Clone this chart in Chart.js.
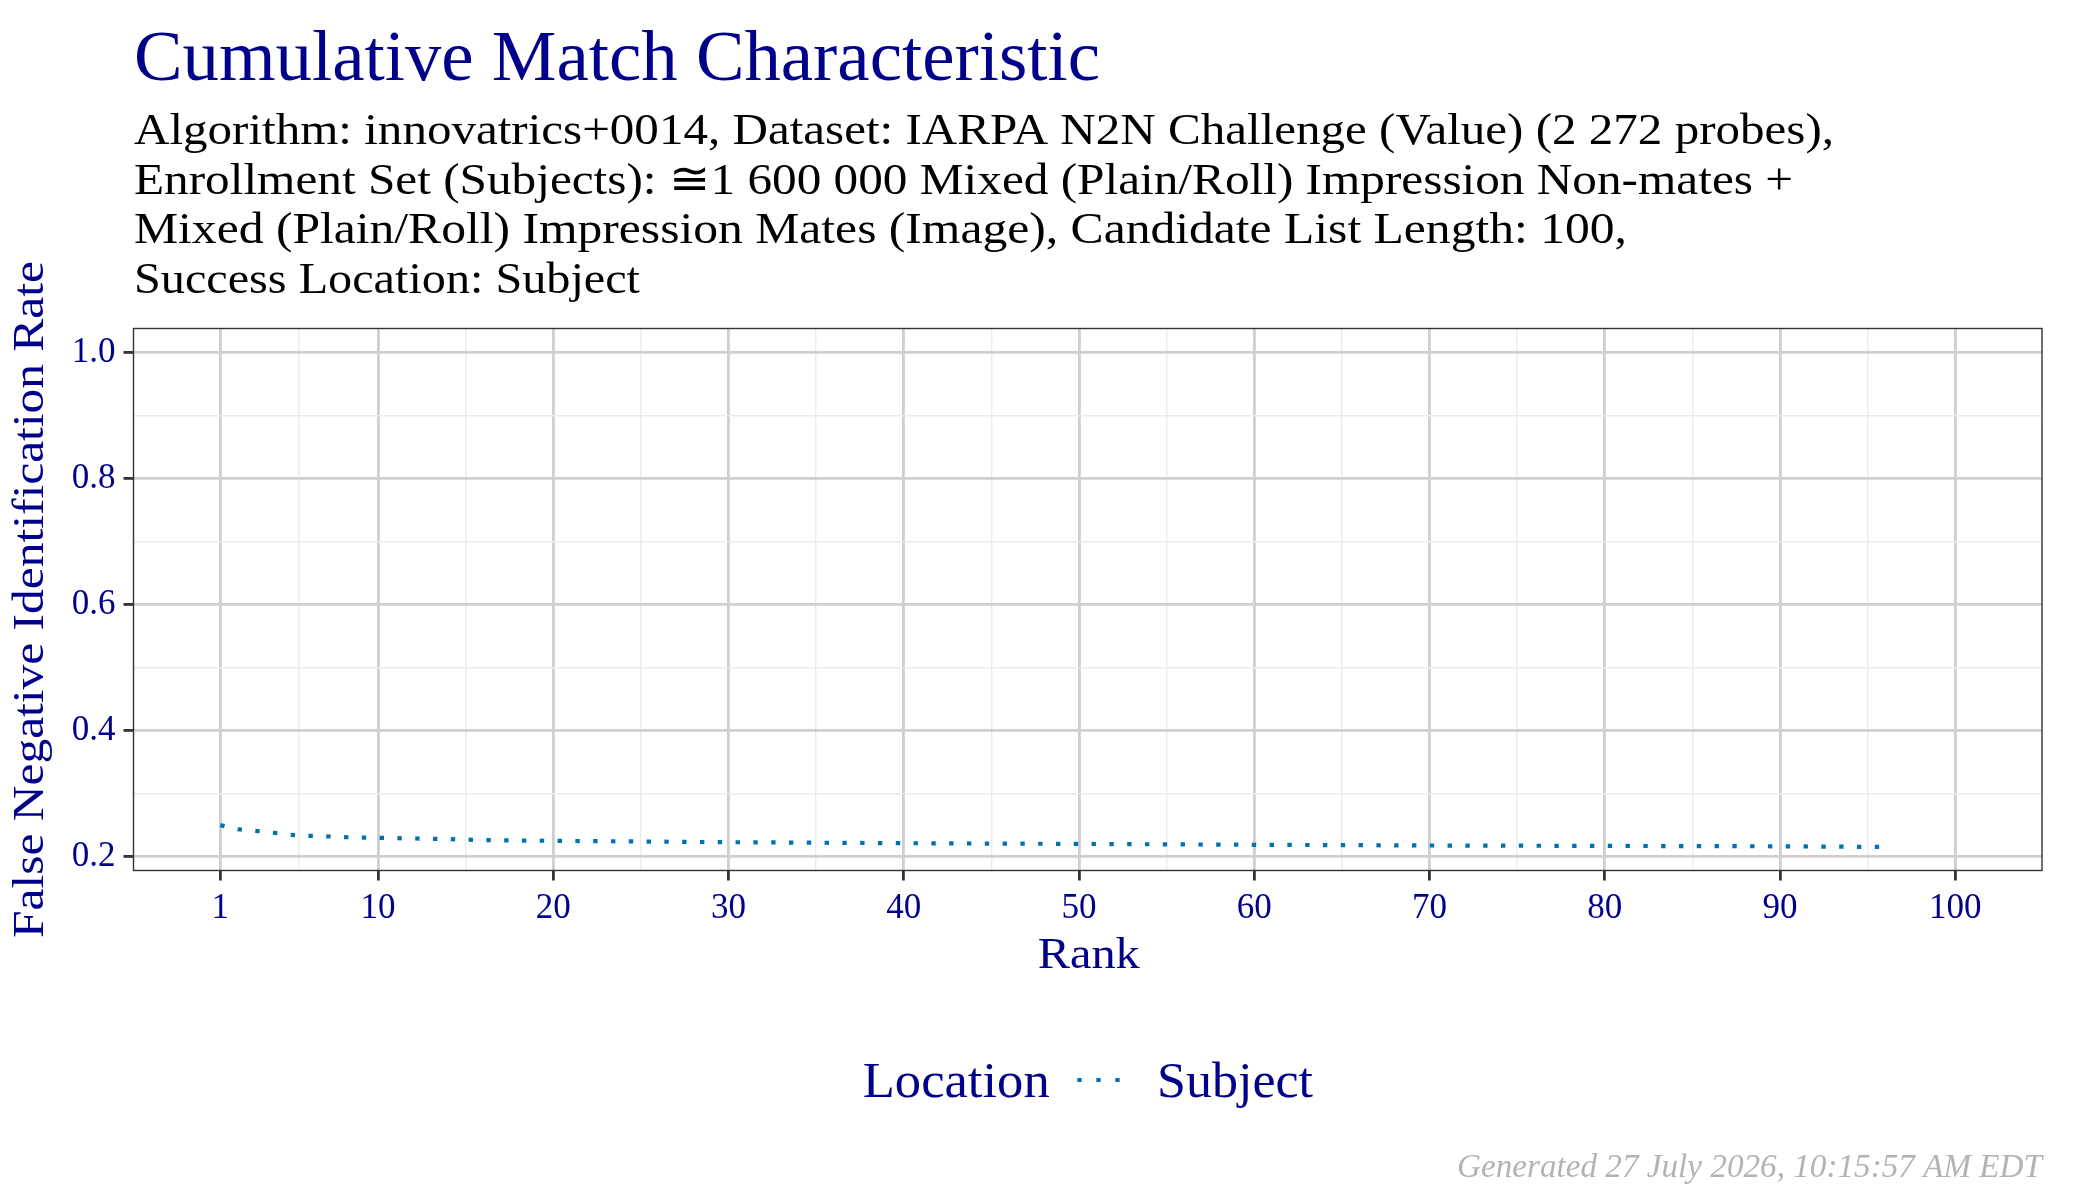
<!DOCTYPE html>
<html>
<head>
<meta charset="utf-8">
<script src="https://cdn.jsdelivr.net/npm/chart.js@4"></script>
<style>
html,body{margin:0;padding:0;background:#fff;}
canvas{display:block;}
</style>
</head>
<body>
<canvas id="c" width="2100" height="1200"></canvas>
<script>
// ---- data ----
const ranks = [1,2,3,4,5,6,7,8,9,10,12,14,16,18,20,25,30,40,50,60,70,80,90,96];
const fnir  = [0.250,0.2435,0.241,0.238,0.2345,0.233,0.2323,0.231,0.2303,0.2298,0.2288,0.2278,0.2262,0.2256,0.2251,0.2240,0.2229,0.2213,0.2202,0.2188,0.2177,0.2170,0.2164,0.2153];
const xMajorTicks = [1,10,20,30,40,50,60,70,80,90,100];
const xMinorTicks = [5.5,15,25,35,45,55,65,75,85,95];
const yMajorTicks = [0.2,0.4,0.6,0.8,1.0];
const yMinorTicks = [0.3,0.5,0.7,0.9];
const titleText = "Cumulative Match Characteristic";
const subtitleLines = [
  "Algorithm: innovatrics+0014, Dataset: IARPA N2N Challenge (Value) (2 272 probes),",
  "Enrollment Set (Subjects): \u22451 600 000 Mixed (Plain/Roll) Impression Non-mates +",
  "Mixed (Plain/Roll) Impression Mates (Image), Candidate List Length: 100,",
  "Success Location: Subject"
];
const xTitle = "Rank";
const yTitle = "False Negative Identification Rate";
const legendTitle = "Location";
const seriesName = "Subject";
const footerText = "Generated 27 July 2026, 10:15:57 AM EDT";

// ---- style ----
const NAVY = "#00008B";
const LINE = "#0072B2";
const FONT = '"Liberation Serif", "DejaVu Serif", serif';
const P = {left:133.5, right:2042, top:328.5, bottom:870.5};

const xMajSet = new Set(xMajorTicks);
const yMajSet = new Set(yMajorTicks.map(v => v.toFixed(2)));
const isMajX = v => xMajSet.has(v);
const isMajY = v => yMajSet.has(Number(v).toFixed(2));

function txt(ctx, s, x, y, size, color, o) {
  o = o || {};
  ctx.save();
  ctx.font = (o.italic ? 'italic ' : '') + size + 'px ' + FONT;
  const w = ctx.measureText(s).width;
  const sx = o.w ? o.w / w : 1;
  ctx.translate(x, y);
  if (o.rot) ctx.rotate(-Math.PI / 2);
  ctx.scale(sx, 1);
  ctx.textAlign = o.align || 'left';
  ctx.textBaseline = 'alphabetic';
  ctx.fillStyle = color;
  ctx.fillText(s, 0, 0);
  ctx.restore();
}

const decor = {
  id: 'decor',
  beforeDraw(chart) {
    const ctx = chart.ctx;
    ctx.save();
    ctx.fillStyle = '#fff';
    ctx.fillRect(0, 0, chart.width, chart.height);
    ctx.restore();
  },
  afterDraw(chart) {
    const ctx = chart.ctx;
    const a = chart.chartArea;
    // panel border
    ctx.save();
    ctx.strokeStyle = '#333333';
    ctx.lineWidth = 1.4;
    ctx.strokeRect(a.left, a.top, a.right - a.left, a.bottom - a.top);
    ctx.restore();
    // title & subtitle
    txt(ctx, titleText, 134, 80, 72, NAVY, {w: 966});
    const subW = [1700, 1659, 1493, 506];
    const subY = [144, 193.5, 243, 292.5];
    subtitleLines.forEach((s, i) => txt(ctx, s, 134, subY[i], 45, '#000', {w: subW[i]}));
    // axis titles
    txt(ctx, xTitle, (a.left + a.right) / 2 + 1, 968, 44, NAVY, {align: 'center', w: 102});
    txt(ctx, yTitle, 43, (a.top + a.bottom) / 2, 44, NAVY, {align: 'center', rot: true, w: 677});
    // legend
    txt(ctx, legendTitle, 862.7, 1096.7, 51, NAVY, {w: 187});
    ctx.save();
    ctx.strokeStyle = LINE;
    ctx.lineWidth = 4.2;
    ctx.lineCap = 'butt';
    ctx.setLineDash([4.4, 14.6]);
    ctx.beginPath();
    ctx.moveTo(1077.3, 1080);
    ctx.lineTo(1122, 1080);
    ctx.stroke();
    ctx.restore();
    txt(ctx, seriesName, 1157, 1096.7, 51, NAVY, {w: 156});
    // footer
    txt(ctx, footerText, 2042, 1177, 33, '#b3b3b3', {italic: true, align: 'right', w: 585});
  }
};

new Chart(document.getElementById('c'), {
  type: 'line',
  data: {
    datasets: [{
      label: seriesName,
      data: ranks.map((r, i) => ({x: r, y: fnir[i]})),
      borderColor: LINE,
      borderWidth: 4.2,
      borderDash: [4.4, 13.4],
      borderCapStyle: 'butt',
      pointRadius: 0,
      tension: 0,
      fill: false
    }]
  },
  options: {
    responsive: false,
    animation: false,
    devicePixelRatio: 1,
    layout: {padding: {left: 0, top: P.top, right: 2100 - P.right, bottom: 0}},
    plugins: {legend: {display: false}, title: {display: false}, tooltip: {enabled: false}},
    scales: {
      x: {
        type: 'linear',
        min: -3.95, max: 104.95,
        afterBuildTicks: s => { s.ticks = xMajorTicks.concat(xMinorTicks).sort((p, q) => p - q).map(v => ({value: v})); },
        afterFit: s => { s.height = 1200 - P.bottom; },
        border: {display: false},
        grid: {
          drawOnChartArea: true, drawTicks: true, tickLength: 10,
          color: c => isMajX(c.tick.value) ? '#cfcfcf' : '#ebebeb',
          lineWidth: c => isMajX(c.tick.value) ? 2.8 : 1.4,
          tickColor: c => isMajX(c.tick.value) ? '#333333' : 'rgba(0,0,0,0)',
          tickWidth: 2.8
        },
        ticks: {
          autoSkip: false, maxRotation: 0, padding: 7,
          color: NAVY, font: {family: FONT, size: 35},
          callback: v => isMajX(v) ? String(v) : ''
        }
      },
      y: {
        type: 'linear',
        min: 0.178, max: 1.038,
        afterBuildTicks: s => { s.ticks = yMajorTicks.concat(yMinorTicks).sort((p, q) => p - q).map(v => ({value: v})); },
        afterFit: s => { s.width = P.left; },
        border: {display: false},
        grid: {
          drawOnChartArea: true, drawTicks: true, tickLength: 10,
          color: c => isMajY(c.tick.value) ? '#cfcfcf' : '#ebebeb',
          lineWidth: c => isMajY(c.tick.value) ? 2.8 : 1.4,
          tickColor: c => isMajY(c.tick.value) ? '#333333' : 'rgba(0,0,0,0)',
          tickWidth: 2.8
        },
        ticks: {
          autoSkip: false, padding: 8,
          color: NAVY, font: {family: FONT, size: 35},
          callback: v => isMajY(v) ? Number(v).toFixed(1) : ''
        }
      }
    }
  },
  plugins: [decor]
});
</script>
</body>
</html>
